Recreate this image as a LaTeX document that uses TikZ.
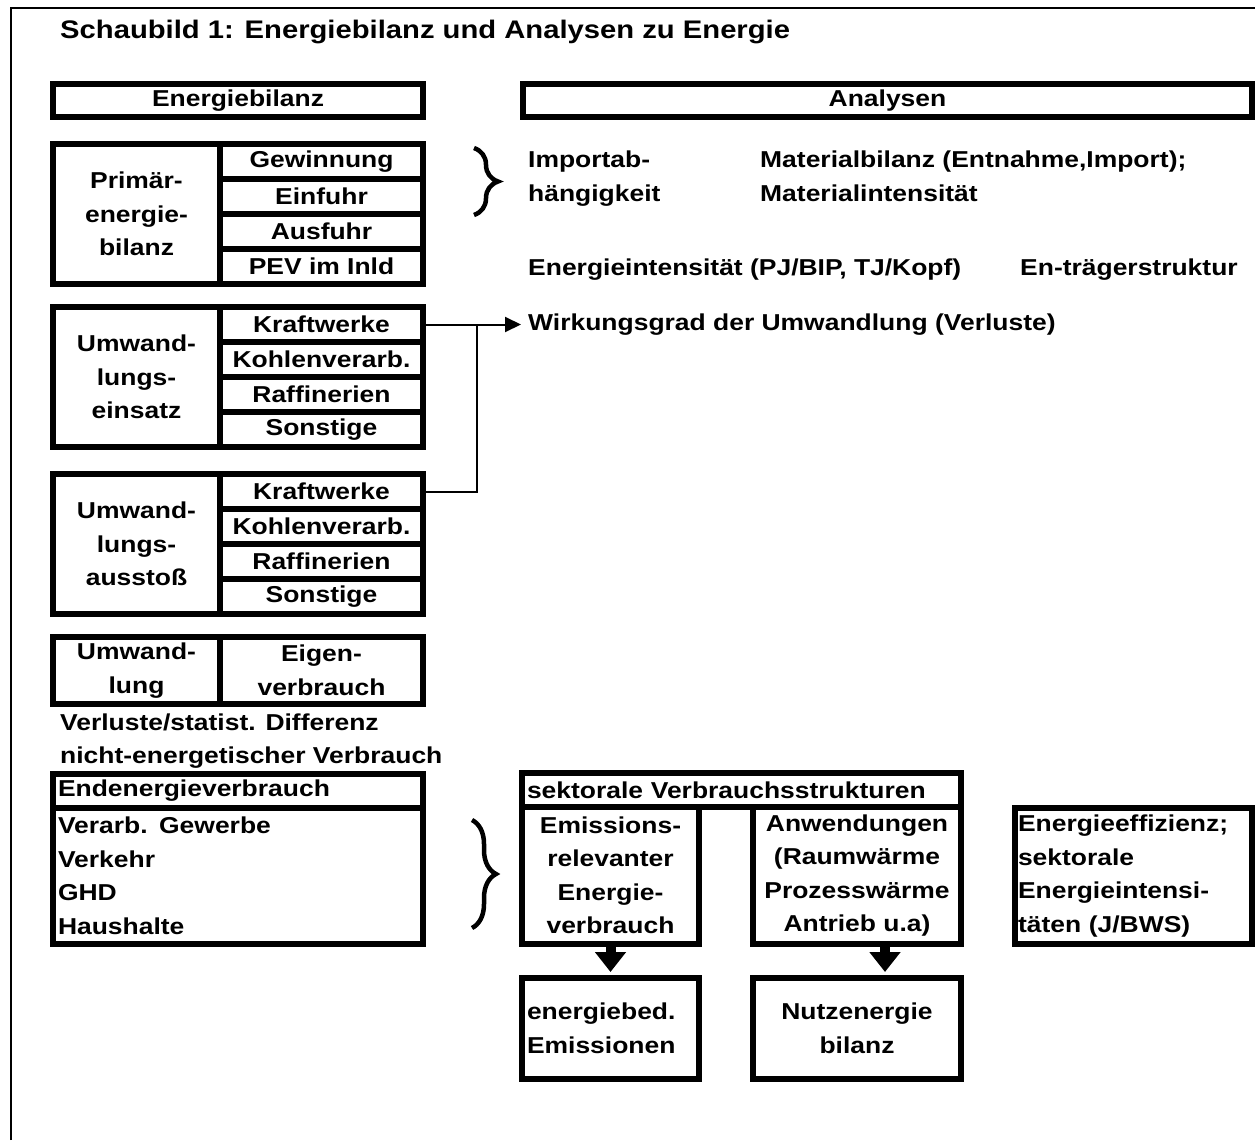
\documentclass[tikz,border=0pt]{standalone}
\usepackage{fontspec}
\setmainfont{Liberation Sans}[FakeStretch=1.15]
\usetikzlibrary{arrows.meta,decorations.pathreplacing}

\begin{document}
\begin{tikzpicture}[x=1pt, y=-1pt,
    font=\fontsize{23}{33.5}\selectfont\bfseries,
    box/.style={draw, line width=6pt, inner sep=0pt, align=center},
    leftbox/.style={draw, line width=6pt, inner ysep=0pt, inner xsep=5pt, align=left},
    side/.style={box, minimum width=167pt, minimum height=140pt},
    cell/.style={box, minimum width=203pt, minimum height=35pt},
    txt/.style={anchor=base west, inner sep=0pt},
    conn/.style={line width=2pt},
    fat/.style={line width=10pt, -{Triangle[length=20pt,width=30pt]}, shorten >=3pt},
    brc/.style={line width=4.5pt, decorate, decoration={brace, amplitude=24pt}}]
    \useasboundingbox (0,0) rectangle (1255,1140);
    \draw[line width=2.5pt] (11,1140) -- (11,8) -- (1255,8);
    \node[txt, font=\fontsize{25.4}{30}\selectfont\bfseries] (title) at (60,38) {Schaubild 1: Energiebilanz und Analysen zu Energie};

    % Kopfzeilen
    \node[box, minimum width=370pt, minimum height=33pt] (ebil) at (238,100.5) {Energiebilanz};
    \node[box, minimum width=729pt, minimum height=33pt] (anal) at (887.5,100.5) {Analysen};

    % Primaerenergiebilanz
    \node[side] (prim) at (136.5,214) {Primär-\\energie-\\bilanz};
    \node[cell] (p1) at (321.5,161.5) {Gewinnung};
    \node[cell] (p2) at (321.5,196.5) {Einfuhr};
    \node[cell] (p3) at (321.5,231.5) {Ausfuhr};
    \node[cell] (p4) at (321.5,266.5) {PEV im Inld};

    % Umwandlungseinsatz
    \node[side] (ein) at (136.5,377) {Umwand-\\lungs-\\einsatz};
    \node[cell] (ek1) at (321.5,324.5) {Kraftwerke};
    \node[cell] (ek2) at (321.5,359.5) {Kohlenverarb.};
    \node[cell] (ek3) at (321.5,394.5) {Raffinerien};
    \node[cell] (ek4) at (321.5,429.5) {Sonstige};

    % Umwandlungsausstoss
    \node[side] (aus) at (136.5,544) {Umwand-\\lungs-\\ausstoß};
    \node[cell] (ak1) at (321.5,491.5) {Kraftwerke};
    \node[cell] (ak2) at (321.5,526.5) {Kohlenverarb.};
    \node[cell] (ak3) at (321.5,561.5) {Raffinerien};
    \node[cell] (ak4) at (321.5,596.5) {Sonstige};

    % Eigenverbrauch
    \node[box, minimum width=167pt, minimum height=67pt] (umw) at (136.5,670.5) {Umwand-\\lung};
    \node[box, minimum width=203pt, minimum height=67pt] (eigen) at (321.5,670.5) {Eigen-\\verbrauch};
    \node[txt] (verl) at (60,730) {Verluste/statist. Differenz};
    \node[txt] (nichten) at (60,763) {nicht-energetischer Verbrauch};

    % Endenergieverbrauch
    \node[leftbox, text width=360pt, minimum height=34.5pt] (endv) at (238,791) {Endenergieverbrauch};
    \node[leftbox, text width=360pt, minimum height=135.5pt] (sekt) at (238,876) {Verarb. Gewerbe\\Verkehr\\GHD\\Haushalte};

    % Analysen
    \draw[brc] (474,148) -- (474,215);
    \node[txt] (imp1) at (528,167) {Importab-};
    \node[txt] (imp2) at (528,201) {hängigkeit};
    \node[txt] (mat1) at (760,167) {Materialbilanz (Entnahme,Import);};
    \node[txt] (mat2) at (760,201) {Materialintensität};
    \node[txt] (eint) at (528,275) {Energieintensität (PJ/BIP, TJ/Kopf)};
    \node[txt] (etr) at (1020,275) {En-trägerstruktur};
    \node[anchor=west, inner xsep=7pt, inner ysep=0pt] (wirk) at (521,324.5) {Wirkungsgrad der Umwandlung (Verluste)};
    \coordinate (knick) at (477,324.5);
    \draw[conn, -{Triangle[length=16pt,width=15pt]}] (ek1.east) -- (wirk.west);
    \draw[conn] (ak1.east) -| (knick);

    % sektorale Strukturen
    \draw[brc] (472,820) -- (472,928);
    \node[leftbox, text width=429pt, minimum height=34pt] (sv) at (741.5,790) {sektorale Verbrauchsstrukturen};
    \node[box, minimum width=177pt, minimum height=137pt] (emi) at (610.5,875.5) {Emissions-\\relevanter\\Energie-\\verbrauch};
    \node[box, minimum width=208pt, minimum height=137pt] (anw) at (857,875.5) {Anwendungen\\(Raumwärme\\Prozesswärme\\Antrieb u.a)};
    \node[leftbox, text width=167pt, minimum height=101pt] (ebed) at (610.5,1028.5) {energiebed.\\Emissionen};
    \node[box, minimum width=208pt, minimum height=101pt] (nutz) at (857,1028.5) {Nutzenergie\\bilanz};
    \draw[fat] (emi.south) -- (ebed.north);
    \draw[fat] ([xshift=28pt]anw.south) -- ([xshift=28pt]nutz.north);
    \node[leftbox, inner xsep=3pt, text width=231pt, minimum height=136pt] (eff) at (1133.5,876) {Energieeffizienz;\\sektorale\\Energieintensi-\\täten (J/BWS)};
\end{tikzpicture}
\end{document}
